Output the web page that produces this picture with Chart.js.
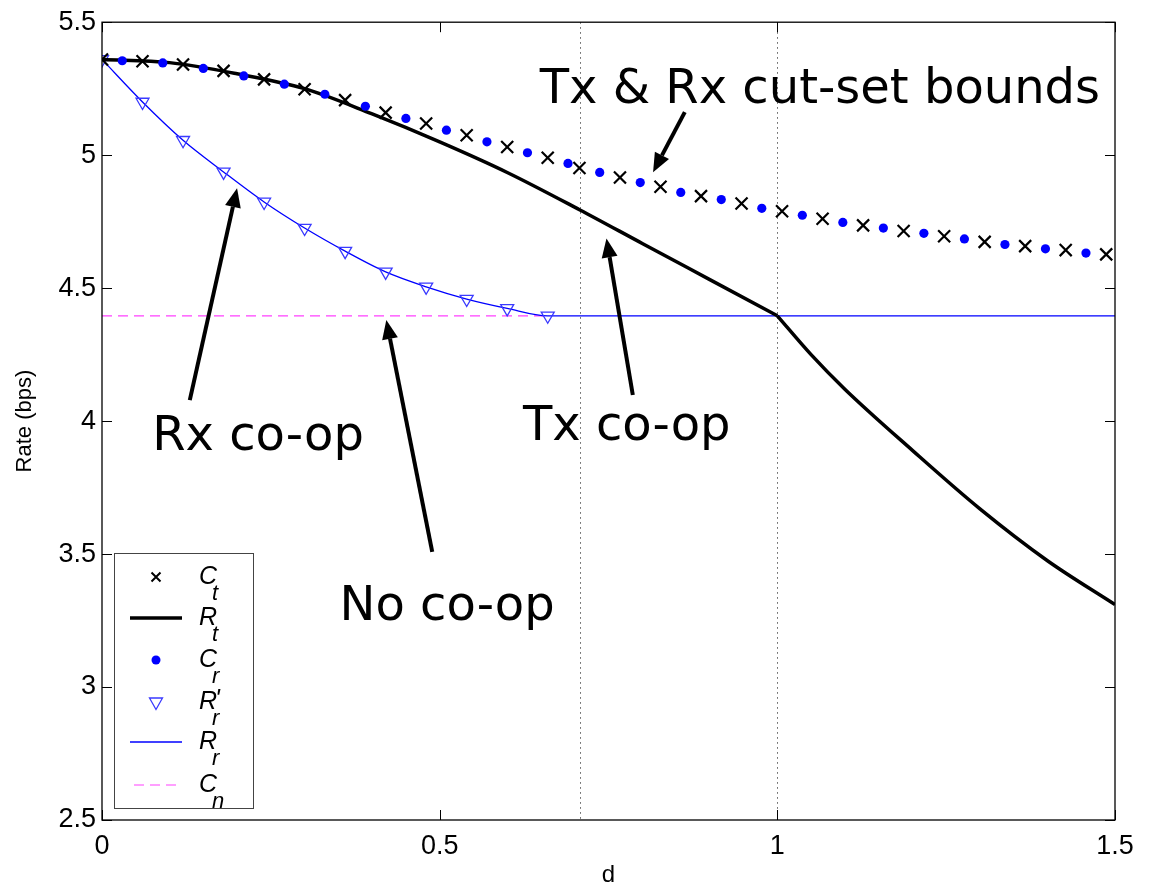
<!DOCTYPE html>
<html>
<head>
<meta charset="utf-8">
<script src="https://cdn.jsdelivr.net/npm/chart.js@4"></script>
<style>
  html, body { margin: 0; padding: 0; background: #fff; }
  #wrap { width: 1149px; height: 890px; }
</style>
</head>
<body>
<div id="wrap"><canvas id="c" width="1149" height="890"></canvas></div>
<script>
// ---- data ---------------------------------------------------------------
// C_t : Tx cut-set bound (x markers)
const dCt = [0, 0.06, 0.12, 0.18, 0.24, 0.30, 0.36, 0.42, 0.48, 0.54, 0.60, 0.66,
             0.707, 0.767, 0.827, 0.887, 0.947, 1.007, 1.067, 1.127, 1.187, 1.247, 1.307, 1.367, 1.427, 1.487];
const ct  = [5.360, 5.353, 5.341, 5.317, 5.285, 5.248, 5.207, 5.160, 5.119, 5.075, 5.031, 4.990,
             4.952, 4.916, 4.881, 4.846, 4.818, 4.789, 4.761, 4.736, 4.715, 4.695, 4.674, 4.658, 4.643, 4.627];

// C_r : Rx cut-set bound (dots)
const dCr = [0.03, 0.09, 0.15, 0.21, 0.27, 0.33, 0.39, 0.45, 0.51, 0.57, 0.63, 0.69,
             0.737, 0.797, 0.857, 0.917, 0.977, 1.037, 1.097, 1.157, 1.217, 1.277, 1.337, 1.397, 1.457];
const cr  = [5.355, 5.347, 5.326, 5.298, 5.267, 5.229, 5.184, 5.138, 5.094, 5.050, 5.009, 4.969,
             4.935, 4.897, 4.860, 4.833, 4.800, 4.774, 4.747, 4.726, 4.706, 4.685, 4.664, 4.648, 4.632];

// R_t : Tx co-op rate (thick black curve); slope changes abruptly at d = 1
const dRt = [0, 0.1, 0.2, 0.3, 0.4, 0.5, 0.6, 0.707, 0.8, 0.9, 1.0, 1.05, 1.1, 1.2, 1.3, 1.4, 1.5];
const rt  = [5.360, 5.348, 5.306, 5.250, 5.155, 5.050, 4.935, 4.795, 4.668, 4.532, 4.396, 4.25, 4.12, 3.89, 3.67, 3.475, 3.31];
const rtBreak = 10;   // index of d = 1

// R'_r : Rx co-op rate (triangles)
const dRrp = [0, 0.06, 0.12, 0.18, 0.24, 0.30, 0.36, 0.42, 0.48, 0.54, 0.60, 0.66];
const rrp  = [5.360, 5.200, 5.056, 4.937, 4.824, 4.726, 4.639, 4.561, 4.505, 4.459, 4.424, 4.396];

// R_r : Rx co-op rate (thin blue curve, flat beyond the switch point)
const dRr = [0, 0.06, 0.12, 0.18, 0.24, 0.30, 0.36, 0.42, 0.48, 0.54, 0.60, 0.66, 1.5];
const rr  = [5.360, 5.200, 5.056, 4.937, 4.824, 4.726, 4.639, 4.561, 4.505, 4.459, 4.424, 4.396, 4.396];

// C_n : no co-op rate (dashed)
const dCn = [0, 0.66];
const cn  = [4.396, 4.396];

// axes
const xTicks = [0, 0.5, 1, 1.5];
const xTickLabels = ['0', '0.5', '1', '1.5'];
const yTicks = [2.5, 3, 3.5, 4, 4.5, 5, 5.5];
const yTickLabels = ['2.5', '3', '3.5', '4', '4.5', '5', '5.5'];
const guideD = [0.7071, 1.0];   // dotted verticals

// call-outs: text anchor (d, rate at baseline) and arrow tail -> tip
const notes = [
  { text: 'Tx & Rx cut-set bounds', d: 1.063, v: 5.195, tail: [0.863, 5.162], tip: [0.816, 4.936] },
  { text: 'Rx co-op',               d: 0.231, v: 3.891, tail: [0.130, 4.079], tip: [0.200, 4.876] },
  { text: 'Tx co-op',               d: 0.777, v: 3.929, tail: [0.786, 4.098], tip: [0.747, 4.687] },
  { text: 'No co-op',               d: 0.511, v: 3.252, tail: [0.489, 3.508], tip: [0.421, 4.380] }
];

const pts = (xs, ys) => xs.map((x, i) => ({ x, y: ys[i] }));

// ---- styles -------------------------------------------------------------
const BLUE = '#0000ff';
const TRI_BLUE = '#3a3aff';
const PINK = '#ff40ff';

const rtStyle = { showLine: true, pointRadius: 0, borderColor: '#000', borderWidth: 3.5,
                  cubicInterpolationMode: 'monotone', order: 2 };

const datasets = [
  { label: 'C_t', data: pts(dCt, ct), showLine: false, pointStyle: 'crossRot', pointRadius: 8.5,
    borderColor: '#000', borderWidth: 2.2, backgroundColor: '#000', order: 1 },
  { label: 'R_t', data: pts(dRt.slice(0, rtBreak + 1), rt.slice(0, rtBreak + 1)), ...rtStyle },
  { label: 'R_t (d>1)', data: pts(dRt.slice(rtBreak), rt.slice(rtBreak)), ...rtStyle },
  { label: 'C_r', data: pts(dCr, cr), showLine: false, pointStyle: 'circle', pointRadius: 4.6,
    backgroundColor: BLUE, borderColor: BLUE, borderWidth: 0, order: 0 },
  { label: "R'_r", data: pts(dRrp, rrp), showLine: false, pointStyle: 'triangle', rotation: 180,
    pointRadius: 7.5, borderColor: TRI_BLUE, borderWidth: 1.3, backgroundColor: 'rgba(0,0,0,0)', order: 3 },
  { label: 'R_r', data: pts(dRr, rr), showLine: true, pointRadius: 0, borderColor: BLUE,
    borderWidth: 1.3, cubicInterpolationMode: 'monotone', order: 4 },
  { label: 'C_n', data: pts(dCn, cn), showLine: true, pointRadius: 0, borderColor: PINK,
    borderWidth: 1.2, borderDash: [10, 6], order: 5 }
];

function drawArrow(ctx, x1, y1, x2, y2) {
  const a = Math.atan2(y2 - y1, x2 - x1);
  const L = 19, W = 8;
  const bx = x2 - L * Math.cos(a), by = y2 - L * Math.sin(a);
  ctx.lineWidth = 4;
  ctx.lineCap = 'butt';
  ctx.beginPath(); ctx.moveTo(x1, y1); ctx.lineTo(bx, by); ctx.stroke();
  ctx.beginPath();
  ctx.moveTo(x2, y2);
  ctx.lineTo(bx + W * Math.sin(a), by - W * Math.cos(a));
  ctx.lineTo(bx - W * Math.sin(a), by + W * Math.cos(a));
  ctx.closePath(); ctx.fill();
}

// legend label: main letter, optional prime, subscript
function legendLabel(ctx, x, y, main, sub, prime) {
  ctx.font = 'italic 25px "Liberation Sans"';
  ctx.textBaseline = 'alphabetic';
  ctx.textAlign = 'left';
  ctx.fillText(main, x, y + 7);
  if (prime) ctx.fillText("'", x + 16, y + 5);
  ctx.font = 'italic 22px "Liberation Sans"';
  ctx.fillText(sub, x + 13, y + 23);
}

const decor = {
  id: 'decor',
  beforeDatasetsDraw(chart) {
    const { ctx, chartArea: a, scales: { x } } = chart;
    ctx.save();
    ctx.strokeStyle = '#555';
    ctx.lineWidth = 1;
    ctx.setLineDash([1.5, 3.5]);
    for (const d of guideD) {
      const px = Math.round(x.getPixelForValue(d)) + 0.5;
      ctx.beginPath(); ctx.moveTo(px, a.top); ctx.lineTo(px, a.bottom); ctx.stroke();
    }
    ctx.restore();
  },
  afterDatasetsDraw(chart) {
    const { ctx, chartArea: a, scales: { x, y } } = chart;
    ctx.save();

    // axes box with inward ticks on all four sides
    ctx.strokeStyle = '#000';
    ctx.lineWidth = 1.3;
    ctx.strokeRect(a.left, a.top, a.right - a.left, a.bottom - a.top);
    const TL = 10;
    ctx.lineWidth = 1;
    for (const t of xTicks) {
      const px = Math.round(x.getPixelForValue(t)) + 0.5;
      ctx.beginPath();
      ctx.moveTo(px, a.bottom); ctx.lineTo(px, a.bottom - TL);
      ctx.moveTo(px, a.top); ctx.lineTo(px, a.top + TL);
      ctx.stroke();
    }
    for (const t of yTicks) {
      const py = Math.round(y.getPixelForValue(t)) + 0.5;
      ctx.beginPath();
      ctx.moveTo(a.left, py); ctx.lineTo(a.left + TL, py);
      ctx.moveTo(a.right, py); ctx.lineTo(a.right - TL, py);
      ctx.stroke();
    }

    // call-outs
    ctx.fillStyle = '#000';
    ctx.strokeStyle = '#000';
    for (const n of notes) {
      drawArrow(ctx, x.getPixelForValue(n.tail[0]), y.getPixelForValue(n.tail[1]),
                     x.getPixelForValue(n.tip[0]), y.getPixelForValue(n.tip[1]));
    }
    ctx.font = '48px "DejaVu Sans"';
    ctx.textAlign = 'center';
    ctx.textBaseline = 'alphabetic';
    for (const n of notes) {
      ctx.fillText(n.text, x.getPixelForValue(n.d), y.getPixelForValue(n.v));
    }

    // legend
    const bx = 114, by = 553, bw = 139, bh = 255;
    ctx.fillStyle = '#fff';
    ctx.fillRect(bx, by, bw, bh);
    ctx.strokeStyle = '#444';
    ctx.lineWidth = 1;
    ctx.strokeRect(bx + 0.5, by + 0.5, bw, bh);
    const rowY = [577, 618, 660, 702, 742, 785];
    const mx = 156, lx0 = 130, lx1 = 182, tx = 199;
    ctx.fillStyle = '#000';
    // C_t
    ctx.strokeStyle = '#000'; ctx.lineWidth = 2;
    ctx.beginPath();
    ctx.moveTo(mx - 4.5, rowY[0] - 4.5); ctx.lineTo(mx + 4.5, rowY[0] + 4.5);
    ctx.moveTo(mx + 4.5, rowY[0] - 4.5); ctx.lineTo(mx - 4.5, rowY[0] + 4.5);
    ctx.stroke();
    legendLabel(ctx, tx, rowY[0], 'C', 't', false);
    // R_t
    ctx.lineWidth = 3.5;
    ctx.beginPath(); ctx.moveTo(lx0, rowY[1]); ctx.lineTo(lx1, rowY[1]); ctx.stroke();
    legendLabel(ctx, tx, rowY[1], 'R', 't', false);
    // C_r
    ctx.fillStyle = BLUE;
    ctx.beginPath(); ctx.arc(mx, rowY[2], 4.5, 0, Math.PI * 2); ctx.fill();
    ctx.fillStyle = '#000';
    legendLabel(ctx, tx, rowY[2], 'C', 'r', false);
    // R'_r
    ctx.strokeStyle = TRI_BLUE; ctx.lineWidth = 1.3;
    ctx.beginPath();
    ctx.moveTo(mx - 6.5, rowY[3] - 4); ctx.lineTo(mx + 6.5, rowY[3] - 4); ctx.lineTo(mx, rowY[3] + 7.5);
    ctx.closePath(); ctx.stroke();
    legendLabel(ctx, tx, rowY[3], 'R', 'r', true);
    // R_r
    ctx.strokeStyle = BLUE; ctx.lineWidth = 1.3;
    ctx.beginPath(); ctx.moveTo(lx0, rowY[4]); ctx.lineTo(lx1, rowY[4]); ctx.stroke();
    legendLabel(ctx, tx, rowY[4], 'R', 'r', false);
    // C_n
    ctx.strokeStyle = PINK; ctx.lineWidth = 1.2; ctx.setLineDash([10, 6]);
    ctx.beginPath(); ctx.moveTo(lx0 + 4, rowY[5]); ctx.lineTo(lx1, rowY[5]); ctx.stroke();
    ctx.setLineDash([]);
    legendLabel(ctx, tx, rowY[5], 'C', 'n', false);

    ctx.restore();
  }
};

const tickFont = { family: 'Liberation Sans', size: 27 };

new Chart(document.getElementById('c'), {
  type: 'scatter',
  data: { datasets },
  options: {
    responsive: false,
    animation: false,
    devicePixelRatio: 1,
    layout: { padding: { top: 22, right: 34, left: 0, bottom: 0 } },
    plugins: { legend: { display: false }, tooltip: { enabled: false } },
    scales: {
      x: {
        type: 'linear', min: 0, max: 1.5,
        afterFit(s) { s.height = 70; },
        afterBuildTicks(s) { s.ticks = xTicks.map(v => ({ value: v })); },
        grid: { display: false, drawTicks: false },
        border: { display: false },
        ticks: { padding: 10, font: tickFont, color: '#000', maxRotation: 0,
                 callback: (v, i) => xTickLabels[i] },
        title: { display: true, text: 'd', color: '#000',
                 font: { family: 'Liberation Sans', size: 24 }, padding: { top: 0, bottom: 0 } }
      },
      y: {
        type: 'linear', min: 2.5, max: 5.5,
        afterFit(s) { s.width = 102; },
        afterBuildTicks(s) { s.ticks = yTicks.map(v => ({ value: v })); },
        grid: { display: false, drawTicks: false },
        border: { display: false },
        ticks: { padding: 6, font: tickFont, color: '#000',
                 callback: (v, i) => yTickLabels[i] },
        title: { display: true, text: 'Rate (bps)', color: '#000',
                 font: { family: 'Liberation Sans', size: 22 }, padding: { top: 12, bottom: 0 } }
      }
    }
  },
  plugins: [decor]
});
</script>
</body>
</html>
